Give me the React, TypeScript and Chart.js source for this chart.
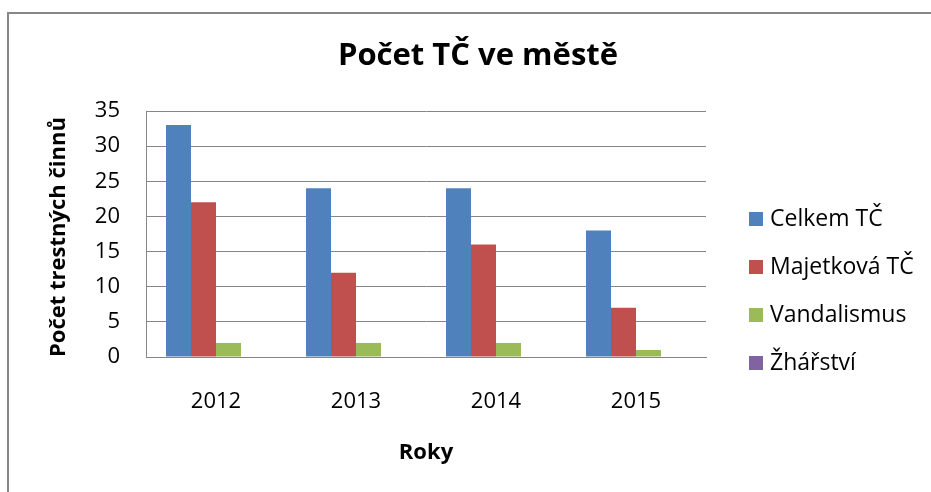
import React, { useEffect, useRef } from 'react';
import { Chart, registerables, layouts } from 'chart.js';

Chart.register(...registerables);

const categories = ['2012', '2013', '2014', '2015'];
const celkemTC = [33, 24, 24, 18];
const majetkovaTC = [22, 12, 16, 7];
const vandalismus = [2, 2, 2, 1];
const zharstvi = [0, 0, 0, 0];
const seriesNames = ['Celkem TČ', 'Majetková TČ', 'Vandalismus', 'Žhářství'];
const seriesColors = ['#4F81BD', '#C0504D', '#9BBB59', '#8064A2'];
const yTicks = { min: 0, max: 35, step: 5 };

const FONT = '"Open Sans", Lato, sans-serif';
const LEGEND_W = 225;

const sideLegend = {
  id: 'sideLegend',
  beforeInit(chart: any) {
    const box: any = {
      position: 'right',
      weight: 1000,
      fullSize: false,
      options: {},
      left: 0, top: 0, right: 0, bottom: 0, width: 0, height: 0,
      isHorizontal: () => false,
      update(maxWidth: number, maxHeight: number) {
        box.width = LEGEND_W;
        box.height = maxHeight;
      },
      draw() {
        const ctx = chart.ctx;
        const area = chart.chartArea;
        ctx.save();
        ctx.font = `23px ${FONT}`;
        ctx.textBaseline = 'middle';
        ctx.textAlign = 'left';
        chart.data.datasets.forEach((ds: any, i: number) => {
          const cy = area.top + 108 + i * 48;
          ctx.fillStyle = ds.backgroundColor;
          ctx.fillRect(box.left + 43, cy - 7, 14, 14);
          ctx.fillStyle = '#000';
          ctx.fillText(ds.label, box.left + 64, cy);
        });
        ctx.restore();
      },
    };
    layouts.addBox(chart, box);
  },
};

export default function App() {
  const ref = useRef<HTMLCanvasElement>(null);
  useEffect(() => {
    if (!ref.current) return;
    const values = [celkemTC, majetkovaTC, vandalismus, zharstvi];
    const chart = new Chart(ref.current, {
      type: 'bar',
      data: {
        labels: categories,
        datasets: values.map((v, i) => ({
          label: seriesNames[i],
          data: v,
          backgroundColor: seriesColors[i],
          borderWidth: 0,
          categoryPercentage: 0.714,
          barPercentage: 1,
        })),
      },
      options: {
        animation: false,
        responsive: false,
        maintainAspectRatio: false,
        layout: { padding: { left: 25, right: 0, top: 0, bottom: 0 } },
        plugins: {
          legend: { display: false },
          tooltip: { enabled: false },
          title: {
            display: true,
            text: 'Počet TČ ve městě',
            color: '#000',
            font: { family: FONT, size: 31, weight: 'bold' },
            padding: { top: 38, bottom: 35.8 },
          },
        },
        scales: {
          x: {
            afterFit: (s: any) => { s.height = 135; },
            grid: { display: false, drawTicks: false },
            border: { display: true, color: '#868686', width: 1 },
            ticks: { color: '#000', font: { family: FONT, size: 22 }, padding: 32 },
            title: {
              display: true,
              text: 'Roky',
              color: '#000',
              font: { family: FONT, size: 22, weight: 'bold' },
              padding: { top: 0, bottom: 26 },
            },
          },
          y: {
            min: yTicks.min,
            max: yTicks.max,
            afterFit: (s: any) => { s.width = 121; },
            grid: { color: '#868686', lineWidth: 1, drawTicks: false },
            border: { display: true, color: '#868686', width: 1 },
            ticks: { stepSize: yTicks.step, color: '#000', font: { family: FONT, size: 22 }, padding: 26 },
            title: {
              display: true,
              align: 'start',
              text: 'Počet trestných činnů',
              color: '#000',
              font: { family: FONT, size: 22, weight: 'bold' },
              padding: { top: 21, bottom: 0 },
            },
          },
        },
      },
      plugins: [sideLegend],
    } as any);
    return () => chart.destroy();
  }, []);
  return (
    <div>
      <div style={{ position: 'fixed', left: 7, top: 12, width: 1000, height: 700, borderTop: '2px solid #878787', borderLeft: '2px solid #878787', boxSizing: 'border-box', background: '#fff' }} />
      <canvas ref={ref} width={931} height={492} style={{ position: 'fixed', left: 0, top: 0, width: 931, height: 492 }} />
    </div>
  );
}
